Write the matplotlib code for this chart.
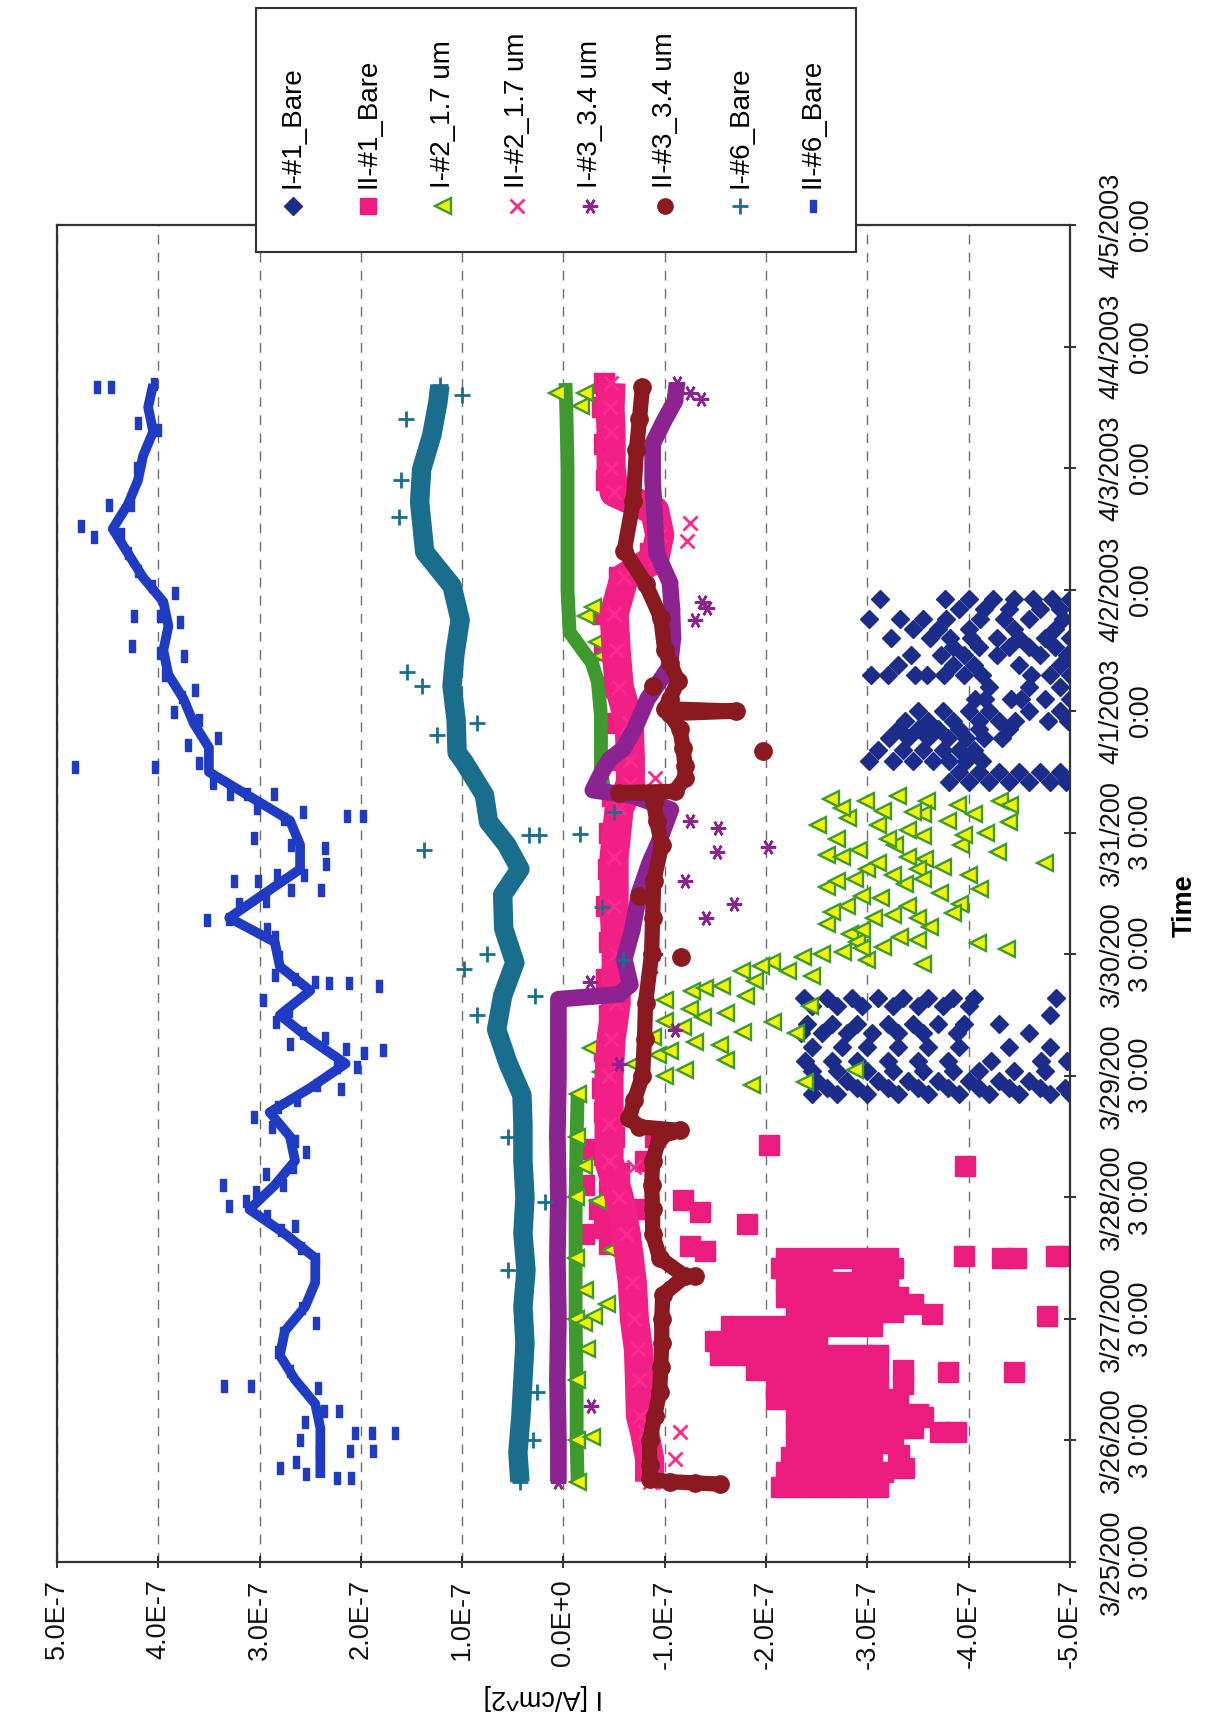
import numpy as np
import matplotlib.pyplot as plt
from matplotlib.patches import Rectangle

plt.rcParams['font.family'] = ['Liberation Sans', 'DejaVu Sans']

# time = days after 3/25/2003 0:00, current in units of 1E-7 A/cm^2
day_ticks = [0, 1, 2, 3, 4, 5, 6, 7, 8, 9, 10, 11]
day_labels = ['3/25/200\n3 0:00', '3/26/200\n3 0:00', '3/27/200\n3 0:00',
              '3/28/200\n3 0:00', '3/29/200\n3 0:00', '3/30/200\n3 0:00',
              '3/31/200\n3 0:00', '4/1/2003\n0:00', '4/2/2003\n0:00',
              '4/3/2003\n0:00', '4/4/2003\n0:00', '4/5/2003\n0:00']
cur_ticks = [5, 4, 3, 2, 1, 0, -1, -2, -3, -4, -5]
cur_labels = ['5.0E-7', '4.0E-7', '3.0E-7', '2.0E-7', '1.0E-7', '0.0E+0',
              '-1.0E-7', '-2.0E-7', '-3.0E-7', '-4.0E-7', '-5.0E-7']

names = ['I-#1_Bare', 'II-#1_Bare', 'I-#2_1.7 um', 'II-#2_1.7 um',
         'I-#3_3.4 um', 'II-#3_3.4 um', 'I-#6_Bare', 'II-#6_Bare']

# I-#1_Bare : rows of points read at the same time
i1_t = [3.85, 3.90, 3.96, 4.04, 4.12, 4.24, 4.35, 4.43, 4.50, 4.57, 4.64,
        6.42, 6.50, 6.59, 6.68, 6.78, 6.85, 6.92, 7.00, 7.10, 7.20, 7.30, 7.38,
        7.46, 7.53, 7.60, 7.68, 7.76, 7.84, 7.92]
i1_v = [[-2.45, -2.7, -3.0, -3.3, -3.6, -3.9, -4.2, -4.5, -4.8, -5.0],
        [-2.6, -2.9, -3.2, -3.5, -3.8, -4.1, -4.4, -4.7, -4.95],
        [-2.5, -2.8, -3.1, -3.4, -3.7, -4.0, -4.3, -4.6],
        [-2.45, -2.7, -3.0, -3.25, -3.55, -3.85, -4.1, -4.45, -4.75],
        [-2.38, -2.65, -2.9, -3.2, -3.5, -3.8, -4.22, -4.71, -4.97],
        [-2.45, -2.75, -3.0, -3.3, -3.6, -3.9, -4.4, -4.8],
        [-2.34, -2.55, -2.8, -3.05, -3.3, -3.55, -3.88, -4.6],
        [-2.4, -2.65, -2.9, -3.2, -3.45, -3.7, -3.95, -4.3],
        [-4.8],
        [-2.45, -2.7, -2.95, -3.25, -3.5, -3.75, -4.0],
        [-2.37, -2.6, -2.85, -3.1, -3.35, -3.6, -3.85, -4.05, -4.86],
        [-3.81, -4.0, -4.2, -4.4, -4.6, -4.8, -4.96],
        [-3.9, -4.1, -4.3, -4.5, -4.7, -4.9],
        [-3.02, -3.25, -3.45, -3.65, -3.81, -3.97, -4.13],
        [-3.1, -3.35, -3.55, -3.75, -3.9, -4.05],
        [-3.21, -3.4, -3.6, -3.8, -3.97, -4.15, -4.33],
        [-3.3, -3.5, -3.7, -3.9, -4.1, -4.4],
        [-3.37, -3.6, -3.85, -4.1, -4.3, -4.46, -4.78, -4.98],
        [-3.5, -3.75, -4.0, -4.2, -4.6, -4.9],
        [-4.06, -4.16, -4.42, -4.52, -4.75, -5.0],
        [-4.2, -4.6, -4.9],
        [-3.04, -3.2, -3.47, -3.59, -3.76, -3.95, -4.13, -4.62, -4.8, -5.0],
        [-3.3, -3.85, -4.05, -4.5, -4.9],
        [-3.43, -3.73, -3.95, -4.28, -4.7, -4.97],
        [-3.85, -4.1, -4.4, -4.6, -4.85],
        [-3.23, -3.62, -3.82, -4.02, -4.28, -4.5, -4.75, -5.0],
        [-3.45, -3.7, -4.0, -4.45, -4.85],
        [-3.02, -3.32, -3.55, -3.78, -4.11, -4.35, -4.6, -4.93],
        [-3.9, -4.15, -4.4, -4.7, -4.9],
        [-3.12, -3.77, -4.0, -4.24, -4.45, -4.63, -4.82, -5.0]]

# II-#1_Bare : big cluster (rows), band after the jump, and scattered points
ii1_t = [0.62, 0.74, 0.86, 0.98, 1.10, 1.22, 1.34, 1.46, 1.58, 1.70, 1.82, 1.94, 2.06, 2.18, 2.30, 2.42, 2.50]
ii1_v = [[-2.15, -2.35, -2.55, -2.75, -2.95, -3.1],
         [-2.2, -2.4, -2.6, -2.8, -3.0, -3.15],
         [-2.25, -2.45, -2.65, -2.85, -3.05, -3.3],
         [-2.3, -2.5, -2.7, -2.9, -3.1, -3.25],
         [-2.3, -2.5, -2.7, -2.9, -3.1, -3.3, -3.45],
         [-2.3, -2.5, -2.7, -2.9, -3.1, -3.3, -3.5],
         [-2.1, -2.3, -2.5, -2.7, -2.9, -3.1, -3.3],
         [-2.1, -2.3, -2.5, -2.7, -2.9, -3.1, -3.35],
         [-1.9, -2.1, -2.3, -2.5, -2.7, -2.9, -3.1, -3.35],
         [-1.55, -1.75, -1.95, -2.15, -2.35, -2.55, -2.75, -2.95, -3.1],
         [-1.5, -1.7, -1.9, -2.1, -2.3, -2.5],
         [-1.65, -1.85, -2.05, -2.25, -2.45, -2.65, -2.85, -3.05],
         [-2.3, -2.5, -2.7, -2.9, -3.1, -3.25],
         [-2.2, -2.4, -2.6, -2.8, -3.0, -3.2, -3.3],
         [-2.2, -2.4, -2.6, -2.8, -3.0, -3.2],
         [-2.15, -2.35, -2.55, -2.95, -3.15, -3.25],
         [-2.2, -2.4, -2.6, -2.8, -3.0, -3.2]]
ii1_band_t = [2.62, 2.75, 2.90, 3.05, 3.20, 3.35, 3.50, 3.70, 3.90, 4.20, 4.50, 4.80, 5.10, 5.40, 5.70,
              6.00, 6.30, 6.60, 6.90, 7.20, 7.50, 7.80, 8.10, 8.30, 8.50, 8.70, 8.90, 9.20, 9.50, 9.70]
ii1_band_v = [-0.45, -0.40, -0.35, -0.45, -0.55, -0.40, -0.50, -0.40, -0.38, -0.40, -0.45, -0.42, -0.45, -0.42, -0.44,
              -0.45, -0.48, -0.50, -0.48, -0.42, -0.40, -0.38, -0.55, -0.85, -0.95, -0.75, -0.42, -0.40, -0.38, -0.40]
ii1_out_t = [3.43, 3.26, 2.98, 2.88, 2.78, 2.60, 2.56, 2.52, 2.50, 2.50, 2.52, 2.52, 2.12, 2.04, 2.02, 1.56,
             1.56, 1.19, 1.07, 1.07, 0.88, 0.77, 0.74, 2.70, 2.90, 3.10, 3.30, 3.50, 3.40]
ii1_out_v = [-2.03, -3.96, -1.18, -1.35, -1.81, -1.25, -1.40, -3.95, -4.33, -4.47, -4.86, -4.95, -3.45, -3.64, -4.77, -3.80,
             -4.45, -3.55, -3.72, -3.87, -3.31, -3.36, -3.09, -0.20, -0.75, -0.20, -0.80, -0.90, -0.25]

# I-#2_1.7 um : two dense stretches and the scattered triangles
i2_band1_t = [0.66, 1.0, 1.5, 2.0, 2.5, 3.0, 3.5, 3.85]
i2_band1_v = [-0.14, -0.13, -0.13, -0.12, -0.12, -0.12, -0.13, -0.14]
i2_band2_t = [6.35, 6.52, 6.75, 6.96, 7.24, 7.40, 7.50, 7.65, 8.0, 8.5, 9.0, 9.42, 9.70]
i2_band2_v = [-0.40, -0.37, -0.37, -0.37, -0.34, -0.28, -0.19, -0.06, -0.04, -0.04, -0.04, -0.03, -0.02]
i2_pts_t = [6.28, 6.26, 6.30, 6.26, 6.23, 6.26, 6.23,
            6.06, 6.12, 6.06, 6.02, 6.10, 6.00, 6.09,
            5.82, 5.86, 5.90, 5.78, 5.90, 5.84, 5.75,
            5.55, 5.62, 5.46, 5.58, 5.50, 5.54, 5.41,
            5.25, 5.17, 5.30, 5.14, 5.22, 5.34, 5.09, 5.04,
            4.86, 4.94, 4.98, 5.02, 5.06, 4.92,
            4.62, 4.70, 4.74, 4.78, 4.86, 4.57,
            4.32, 4.40, 4.48, 4.36, 4.44,
            4.23, 4.03, 4.17, 4.05, 4.13, 3.92, 3.95, 4.05,
            5.95, 5.95, 5.70, 5.70, 5.40, 5.40, 5.10, 4.95, 6.15, 5.65,
            6.20, 6.18, 6.17, 6.15, 5.97, 5.98, 5.80, 5.75, 5.80, 5.72, 5.60, 5.65, 5.62, 5.48,
            5.35, 5.32, 5.30, 5.20, 5.12, 5.00, 5.05, 4.90, 4.82, 4.72, 4.66, 4.55, 4.52, 4.45,
            4.28, 4.25, 4.20, 4.10, 4.00, 4.35,
            1.03, 1.75, 1.97, 2.02, 2.12, 2.24, 2.57, 2.97, 3.26, 3.40,
            7.45, 7.57, 7.78, 7.86, 9.51, 9.62, 9.62]
i2_pts_v = [-2.64, -2.99, -3.30, -3.59, -3.89, -4.31, -4.41,
            -2.51, -2.81, -3.10, -3.40, -3.80, -4.17, -4.40,
            -2.60, -2.92, -3.27, -3.57, -3.92, -4.29, -4.75,
            -2.60, -2.88, -3.13, -3.37, -3.72, -4.11, -3.91,
            -2.60, -2.83, -3.07, -3.32, -3.62, -3.85, -4.09, -4.38,
            -1.76, -2.06, -2.36, -2.76, -3.15, -3.55,
            -1.00, -1.27, -1.56, -1.89, -2.22, -2.43,
            -0.88, -1.18, -1.38, -1.77, -2.07,
            -0.27, -0.37, -0.93, -1.20, -1.60, -1.86, -2.38, -2.88,
            -2.70, -3.20, -3.00, -3.50, -2.80, -3.40, -2.90, -3.00, -3.55, -4.00,
            -2.75, -3.15, -3.45, -4.05, -3.55, -3.95, -2.75, -3.10, -3.40, -3.75, -2.70, -3.25, -3.55, -2.95,
            -2.65, -3.25, -3.50, -2.95, -3.50, -2.55, -2.95, -1.95, -2.45, -1.40, -1.80, -1.25, -1.60, -1.00,
            -1.30, -1.55, -1.05, -0.70, -1.00, -2.30,
            -0.28, -0.23, -0.20, -0.30, -0.43, -0.21, -0.47, -0.34, -0.20, -0.43,
            -0.37, -0.33, -0.22, -0.29, -0.17, -0.21, 0.06]

# II-#2_1.7 um
ii2_t = [0.66, 0.85, 1.07, 1.2, 1.5, 1.75, 2.0, 2.3, 2.7, 3.0, 3.3, 3.6, 4.0, 4.3, 4.6, 5.0, 5.4,
         5.8, 6.2, 6.4, 6.6, 6.9, 7.2, 7.5, 7.8, 8.1, 8.25, 8.45, 8.65, 8.8, 9.0, 9.3, 9.5, 9.7]
ii2_v = [-0.85, -0.85, -0.80, -0.76, -0.75, -0.74, -0.70, -0.68, -0.62, -0.55, -0.45, -0.45, -0.45, -0.47, -0.52, -0.52, -0.50,
         -0.50, -0.55, -0.66, -0.66, -0.65, -0.55, -0.52, -0.50, -0.60, -0.90, -0.95, -0.90, -0.50, -0.47, -0.47, -0.46, -0.47]
ii2_out_t = [1.07, 0.85, 0.66, 8.40, 8.55, 6.45, 3.25]
ii2_out_v = [-1.15, -1.10, -1.00, -1.22, -1.25, -0.90, -0.70]

# I-#3_3.4 um
i3_t = [0.66, 1.0, 1.5, 2.0, 2.5, 3.0, 3.5, 4.0, 4.3, 4.63, 4.65, 4.67, 4.75, 4.96, 5.2, 5.51, 5.75, 5.92,
        6.19, 6.30, 6.35, 6.5, 6.6, 6.69, 6.85, 7.1, 7.37, 7.6, 7.85, 8.06, 8.3, 8.6, 8.9, 9.2, 9.4, 9.55, 9.70]
i3_v = [0.05, 0.05, 0.06, 0.05, 0.06, 0.05, 0.06, 0.05, 0.05, 0.05, -0.25, -0.55, -0.66, -0.60, -0.68, -0.75, -0.85, -0.94,
        -1.06, -0.70, -0.29, -0.38, -0.45, -0.59, -0.70, -0.83, -1.05, -1.08, -1.07, -1.05, -0.92, -0.90, -0.88, -0.88, -1.0, -1.1, -1.12]
i3_out_t = [1.28, 4.10, 4.38, 4.77, 5.30, 5.41, 5.84, 5.88, 6.04, 7.00, 7.75, 7.85, 7.90, 9.57, 9.62, 5.60, 6.10, 5.00, 4.85]
i3_out_v = [-0.27, -0.55, -1.10, -0.26, -1.41, -1.68, -1.52, -2.02, -1.53, -1.03, -1.30, -1.42, -1.37, -1.36, -1.25, -1.20, -1.25, -0.90, -0.85]

# II-#3_3.4 um
ii3_t = [0.64, 0.65, 0.66, 0.68, 0.8, 1.0, 1.2, 1.4, 1.6, 1.8, 2.0, 2.2, 2.35, 2.5, 2.7, 2.9, 3.1, 3.3, 3.5,
         3.55, 3.58, 3.65, 3.8, 4.0, 4.3, 4.6, 5.0, 5.3, 5.6, 5.9, 6.1, 6.25, 6.32, 6.33, 6.34, 6.45, 6.55,
         6.7, 6.85, 6.98, 7.0, 7.02, 7.1, 7.25, 7.4, 7.5, 7.77, 8.05, 8.32, 8.73, 9.15, 9.4, 9.67]
ii3_v = [-1.55, -1.30, -1.05, -0.85, -0.85, -0.85, -0.90, -0.95, -0.96, -0.97, -0.97, -0.98, -1.20, -0.95, -0.88, -0.88, -0.87, -0.88, -0.95,
         -1.15, -0.75, -0.65, -0.70, -0.78, -0.80, -0.81, -0.87, -0.88, -0.89, -0.97, -0.92, -0.89, -0.89, -0.55, -1.10, -1.20, -1.20,
         -1.18, -1.15, -1.05, -1.70, -1.00, -1.05, -1.13, -1.05, -1.00, -0.96, -0.81, -0.60, -0.69, -0.72, -0.75, -0.78]
ii3_out_t = [5.48, 4.98, 6.67, 7.21, 2.35]
ii3_out_v = [-0.75, -1.16, -1.97, -0.88, -1.30]

# I-#6_Bare
i6_t = [0.66, 0.9, 1.2, 1.5, 1.8, 2.1, 2.4, 2.7, 3.0, 3.3, 3.6, 3.84, 4.11, 4.38, 4.66, 4.93, 5.21, 5.49,
        5.70, 5.90, 6.09, 6.31, 6.58, 6.66, 6.93, 7.21, 7.48, 7.75, 8.03, 8.31, 8.72, 8.99, 9.27, 9.54, 9.68]
i6_v = [0.43, 0.45, 0.42, 0.40, 0.38, 0.40, 0.37, 0.40, 0.38, 0.40, 0.40, 0.41, 0.55, 0.66, 0.60, 0.48, 0.59, 0.60,
        0.43, 0.56, 0.74, 0.78, 0.98, 1.05, 1.06, 1.10, 1.07, 1.02, 1.10, 1.37, 1.42, 1.40, 1.30, 1.24, 1.22]
i6_out_t = [1.40, 2.96, 4.66, 4.88, 4.95, 5.39, 5.86, 5.98, 5.98, 5.99, 6.17, 7.21, 7.32,
            9.40, 9.60, 8.60, 8.90, 6.80, 6.90, 5.00, 4.50, 3.50, 2.40, 1.00]
i6_out_v = [0.26, 0.18, 0.28, 0.98, -0.59, -0.38, 1.38, 0.34, 0.24, -0.16, -0.50, 1.40, 1.54,
            1.55, 1.00, 1.62, 1.60, 1.25, 0.85, 0.75, 0.85, 0.55, 0.55, 0.30]

# II-#6_Bare : scattered points and the centre of the dense band
ii6_t = [0.69, 0.69, 0.72, 0.77, 0.82, 0.91, 0.91, 0.91, 1.00, 1.06, 1.06, 1.06, 1.15, 1.24, 1.24, 1.43,
         1.45, 1.45, 1.57, 1.73, 1.88, 1.97, 2.09, 2.31, 2.49, 2.58, 2.73, 2.76, 2.85, 2.93, 2.97, 3.04,
         3.10, 3.10, 3.19, 3.25, 3.37, 3.46, 3.58, 3.66, 3.74, 3.80, 3.89, 3.92, 4.07, 4.07, 4.19, 4.21,
         4.22, 4.26, 4.31, 4.35, 4.44, 4.53, 4.62, 4.74, 4.76, 4.76, 4.77, 4.80, 4.83, 4.98, 5.14, 5.21,
         5.28, 5.29, 5.41, 5.44, 5.53, 5.53, 5.60, 5.60, 5.65, 5.65, 5.74, 5.87, 5.90, 5.96, 6.11, 6.14,
         6.14, 6.17, 6.20, 6.32, 6.32, 6.32, 6.41, 6.54, 6.54, 6.57, 6.72, 6.78, 6.93, 6.99, 7.12, 7.17,
         7.30, 7.45, 7.48, 7.54, 7.73, 7.78, 7.78, 7.97, 8.03, 8.15, 8.30, 8.46, 8.43, 8.52, 8.70, 8.70,
         9.00, 9.31, 9.37, 9.67, 9.67, 9.69]
ii6_v = [2.24, 2.10, 2.54, 2.80, 2.64, 2.41, 2.11, 1.88, 2.60, 2.06, 1.89, 1.66, 2.55, 2.36, 2.22, 2.42,
         3.35, 3.08, 2.70, 2.82, 2.77, 2.44, 2.58, 2.46, 2.44, 2.59, 2.79, 2.65, 2.93, 3.30, 3.13, 3.04,
         2.77, 3.36, 2.94, 2.67, 2.54, 2.65, 2.88, 3.05, 2.82, 2.63, 2.20, 2.43, 2.24, 2.04, 1.97, 1.78,
         2.15, 2.70, 2.35, 2.57, 2.84, 2.71, 2.97, 1.82, 2.31, 2.12, 2.45, 2.65, 2.85, 2.81, 2.85, 2.93,
         3.52, 3.30, 3.20, 2.94, 2.69, 2.39, 3.25, 3.02, 2.83, 2.56, 2.34, 2.35, 2.69, 3.05, 2.76, 2.14,
         1.98, 2.57, 3.03, 3.29, 3.12, 2.86, 3.46, 4.82, 4.03, 3.60, 3.71, 3.41, 3.60, 3.84, 3.77, 3.64,
         3.93, 3.75, 3.98, 4.26, 3.79, 3.98, 4.24, 3.83, 4.06, 4.20, 4.30, 4.37, 4.63, 4.76, 4.27, 4.49,
         4.21, 4.00, 4.20, 4.60, 4.47, 4.04]
ii6_band_t = [0.69, 0.9, 1.1, 1.3, 1.5, 1.7, 1.9, 2.1, 2.3, 2.5, 2.7, 2.9, 3.1, 3.3, 3.5, 3.7, 3.9, 4.1,
              4.3, 4.5, 4.7, 4.9, 5.1, 5.3, 5.5, 5.7, 5.9, 6.1, 6.3, 6.5, 6.7, 6.9, 7.1, 7.3, 7.5, 7.7,
              7.9, 8.1, 8.3, 8.5, 8.7, 8.9, 9.1, 9.3, 9.5, 9.69]
ii6_band_v = [2.4, 2.4, 2.4, 2.45, 2.65, 2.8, 2.75, 2.55, 2.45, 2.45, 2.75, 3.1, 2.85, 2.65, 2.7, 2.9, 2.5, 2.15,
              2.5, 2.8, 2.5, 2.8, 2.85, 3.3, 2.95, 2.6, 2.6, 2.7, 3.1, 3.5, 3.5, 3.65, 3.75, 3.9, 3.95, 3.9,
              3.95, 4.15, 4.3, 4.45, 4.3, 4.2, 4.15, 4.05, 4.1, 4.05]

E7 = 1e-7
FS = 19.5


def rows_to_points(tt, vv):
    xs, ys = [], []
    for t, row in zip(tt, vv):
        for v in row:
            xs.append(v)
            ys.append(t)
    return np.array(xs), np.array(ys)


rect_marker = [(-0.3, -0.5), (0.3, -0.5), (0.3, 0.5), (-0.3, 0.5), (-0.3, -0.5)]
star_marker = (6, 2, 90)

styles = {
    'I-#1_Bare': dict(marker='D', color='#1B2C8A', mec='#1B2C8A', ms=9.5),
    'II-#1_Bare': dict(marker='s', color='#EC1B7E', mec='#EC1B7E', ms=15),
    'I-#2_1.7 um': dict(marker='<', color='#F4F400', mec='#3E9A2C', mew=1.7, ms=12),
    'II-#2_1.7 um': dict(marker='x', color='#FF2A8C', mec='#FF2A8C', mew=2, ms=10),
    'I-#3_3.4 um': dict(marker=star_marker, color='#8C2391', mec='#8C2391', mew=1.8, ms=11),
    'II-#3_3.4 um': dict(marker='o', color='#8A1A20', mec='#8A1A20', ms=12.5),
    'I-#6_Bare': dict(marker='+', color='#1A6E8D', mec='#1A6E8D', mew=2, ms=11),
    'II-#6_Bare': dict(marker=rect_marker, color='#1F3BC4', mec='#1F3BC4', ms=8),
}


def dots(ax, v, t, name):
    st = styles[name]
    ax.plot(np.array(v) * E7, t, ls='none', marker=st['marker'], ms=st['ms'],
            mfc=st['color'], mec=st['mec'], mew=st.get('mew', 1))


def band(ax, v, t, color, lw):
    ax.plot(np.array(v) * E7, t, '-', color=color, lw=lw,
            solid_capstyle='butt', solid_joinstyle='round')


fig = plt.figure(figsize=(12.17, 17.28), dpi=100)
ax = fig.add_axes([0.0468, 0.0961, 0.8324, 0.7737])

# series, drawn in legend order
x, y = rows_to_points(i1_t, i1_v)
dots(ax, x, y, 'I-#1_Bare')

x, y = rows_to_points(ii1_t, ii1_v)
dots(ax, x, y, 'II-#1_Bare')
dots(ax, ii1_band_v, ii1_band_t, 'II-#1_Bare')
dots(ax, ii1_out_v, ii1_out_t, 'II-#1_Bare')

band(ax, i2_band1_v, i2_band1_t, '#3E9A2C', 10)
band(ax, i2_band2_v, i2_band2_t, '#3E9A2C', 10)
dots(ax, i2_band1_v, i2_band1_t, 'I-#2_1.7 um')
dots(ax, i2_pts_v, i2_pts_t, 'I-#2_1.7 um')

band(ax, ii2_v, ii2_t, '#F21F87', 21)
dots(ax, ii2_v, ii2_t, 'II-#2_1.7 um')
dots(ax, ii2_out_v, ii2_out_t, 'II-#2_1.7 um')

band(ax, i3_v, i3_t, '#8C2391', 12)
dots(ax, i3_v, i3_t, 'I-#3_3.4 um')
dots(ax, i3_out_v, i3_out_t, 'I-#3_3.4 um')

band(ax, ii3_v, ii3_t, '#8A1A20', 11)
dots(ax, ii3_v, ii3_t, 'II-#3_3.4 um')
dots(ax, ii3_out_v, ii3_out_t, 'II-#3_3.4 um')

band(ax, i6_v, i6_t, '#1A6E8D', 14)
dots(ax, i6_v, i6_t, 'I-#6_Bare')
dots(ax, i6_out_v, i6_out_t, 'I-#6_Bare')

band(ax, ii6_band_v, ii6_band_t, '#1F3BC4', 7)
dots(ax, ii6_v, ii6_t, 'II-#6_Bare')

# axes: current runs left to right (5E-7 -> -5E-7), time runs upward
ax.set_xlim(5 * E7, -5 * E7)
ax.set_ylim(0, 11)
ax.set_xticks(np.array(cur_ticks) * E7)
ax.set_xticklabels(cur_labels)
ax.set_yticks(day_ticks)
ax.set_yticklabels(day_labels)
ax.yaxis.tick_right()
ax.yaxis.set_label_position('right')

ax.tick_params(axis='x', direction='inout', length=9, width=1.2, pad=8,
               labelsize=FS, labelrotation=90, colors='#111111')
ax.tick_params(axis='y', direction='inout', length=9, width=1.2, pad=16,
               labelsize=FS, labelrotation=90, colors='#111111')
for lbl in ax.get_yticklabels():
    lbl.set_verticalalignment('center')
    lbl.set_multialignment('center')

ax.xaxis.grid(True, color='#6E6E6E', lw=1.0, ls=(0, (7, 6)))
ax.yaxis.grid(False)
for sp in ax.spines.values():
    sp.set_linewidth(1.6)
    sp.set_color('#333333')

ax.set_xlabel('I [A/cm^2]', fontsize=FS, rotation=180, va='center')
ax.xaxis.set_label_coords(0.48, -0.101)
ax.set_ylabel('Time', fontsize=FS, fontweight='bold', rotation=90, va='center')
ax.yaxis.set_label_coords(1.113, 0.491)

# legend box, drawn in pixel space on top of the figure
lax = fig.add_axes([0, 0, 1, 1])
lax.set_xlim(0, 1217)
lax.set_ylim(1728, 0)
lax.axis('off')
lax.add_patch(Rectangle((256, 8), 600, 244, facecolor='white',
                        edgecolor='#333333', lw=1.5))
leg_x = [293, 368, 443, 517, 590, 665, 740, 813]
for lx, name in zip(leg_x, names):
    st = styles[name]
    lax.plot([lx], [206], ls='none', marker=st['marker'], ms=min(st['ms'], 11),
             mfc=st['color'], mec=st['mec'], mew=st.get('mew', 1))
    lax.text(lx, 188, name, rotation=90, ha='center', va='bottom', fontsize=20)

fig.savefig('out.png', dpi=100, facecolor='white')
